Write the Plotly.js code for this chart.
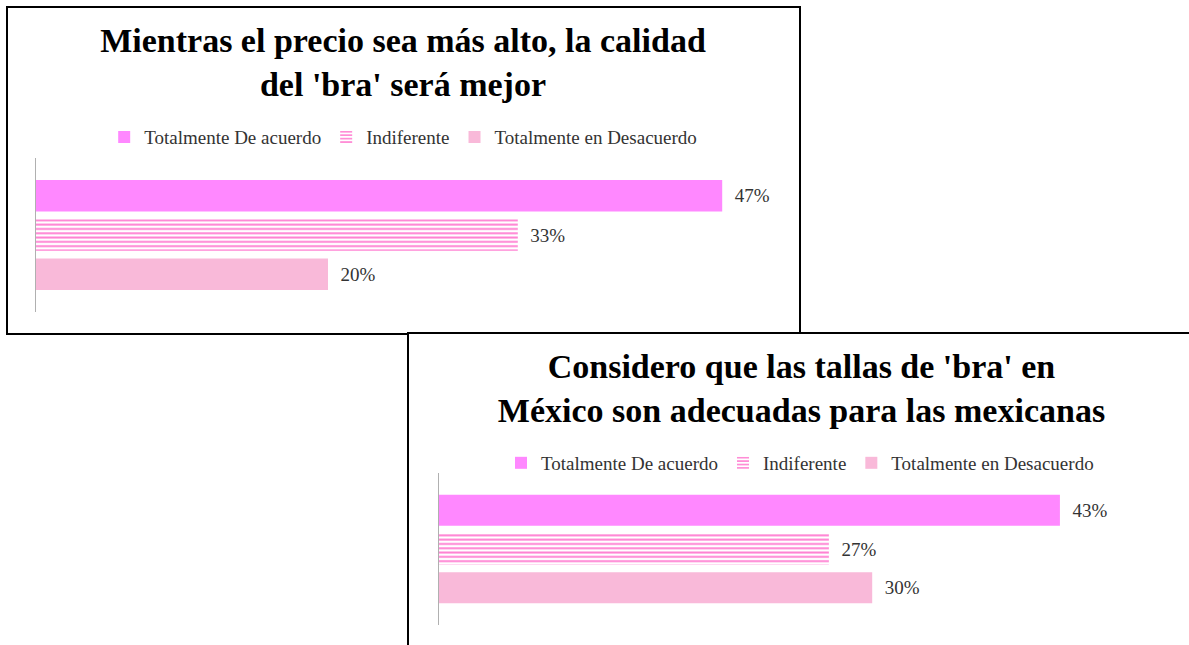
<!DOCTYPE html>
<html>
<head>
<meta charset="utf-8">
<script src="https://cdn.plot.ly/plotly-3.0.1.min.js"></script>
<style>
  html, body { margin:0; padding:0; background:#fff; overflow:hidden; width:1189px; height:645px; }
  .box { position:absolute; box-sizing:border-box; border:2.5px solid #000; background:#fff; }
  #box1 { left:6px; top:6px; width:795px; height:329px; z-index:1; }
  #box2 { left:407px; top:332px; width:790px; height:340px; z-index:2; }
  .plot { position:absolute; left:0; top:0; }
</style>
</head>
<body>
<div id="box1" class="box"><div id="chart1" class="plot"></div></div>
<div id="box2" class="box"><div id="chart2" class="plot"></div></div>
<script>
// ---- data ----
const seriesNames = ["Totalmente De acuerdo", "Indiferente", "Totalmente en Desacuerdo"];
const category = [""];
const title1 = "Mientras el precio sea más alto, la calidad<br>del 'bra' será mejor";
const title2 = "Considero que las tallas de 'bra' en<br>México son adecuadas para las mexicanas";
const values1 = [47, 33, 20];
const values2 = [43, 27, 30];

// ---- styles ----
const colors = ["#ff88ff", "#ff80d2", "#f9b9d9"];
const serif = "Liberation Serif";

function makeTraces(vals) {
  return seriesNames.map((name, i) => {
    const marker = { color: colors[i] };
    if (i === 1) {
      marker.color = "#ffffff";
      marker.pattern = { shape: "-", fgcolor: colors[1], bgcolor: "#ffffff", size: 4.3, solidity: 0.45, fgopacity: 1 };
    }
    return {
      type: "bar",
      orientation: "h",
      name: name,
      x: [vals[i]],
      y: category,
      marker: marker,
      text: [vals[i] + "%"],
      texttemplate: "\u00a0\u00a0%{text}",
      textposition: "outside",
      constraintext: "none",
      cliponaxis: false,
      outsidetextfont: { family: serif, size: 19, color: "#333" },
      hoverinfo: "skip"
    };
  });
}

function makeLayout(title, w, h, m, legX, legY) {
  return {
    width: w, height: h,
    margin: m,
    paper_bgcolor: "rgba(0,0,0,0)",
    plot_bgcolor: "rgba(0,0,0,0)",
    barmode: "group",
    bargap: 0.235,
    bargroupgap: 0.2,
    showlegend: true,
    title: {
      text: title,
      x: 0.5, xanchor: "center",
      y: 1 - 44 / h, yanchor: "top", yref: "container",
      font: { family: serif, size: 34, weight: "bold", color: "#000" }
    },
    legend: {
      orientation: "h",
      x: legX, xanchor: "center", xref: "paper",
      y: legY, yanchor: "middle", yref: "paper",
      font: { family: serif, size: 19, color: "#333" },
      traceorder: "normal"
    },
    xaxis: { range: [0, 50], visible: false, fixedrange: true },
    yaxis: {
      autorange: "reversed",
      showline: true, linecolor: "#b0b0b0", linewidth: 1.5,
      showticklabels: false, ticks: "", showgrid: false, zeroline: false,
      fixedrange: true
    }
  };
}

Plotly.newPlot("chart1", makeTraces(values1),
  makeLayout(title1, 790, 324, { l: 28, r: 32, t: 150, b: 20 }, 0.503, 1.136),
  { staticPlot: true });
Plotly.newPlot("chart2", makeTraces(values2),
  makeLayout(title2, 785, 335, { l: 30, r: 33, t: 139, b: 44 }, 0.5, 1.066),
  { staticPlot: true });
</script>
</body>
</html>
